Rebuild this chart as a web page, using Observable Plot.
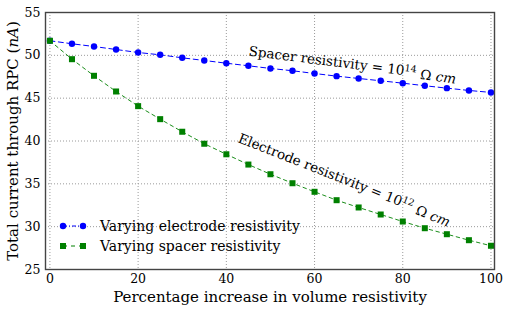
<!DOCTYPE html>
<html><head><meta charset="utf-8">
<script src="https://cdn.jsdelivr.net/npm/d3@7"></script>
<script src="https://cdn.jsdelivr.net/npm/@observablehq/plot@0.6"></script>
<style>
html,body{margin:0;padding:0;background:#fff;}
#chart{width:509px;height:310px;}
#chart svg text{font-family:"DejaVu Serif",serif;}
</style>
</head><body><div id="chart"></div>
<script>
const pct = [0,5,10,15,20,25,30,35,40,45,50,55,60,65,70,75,80,85,90,95,100];
const varyingElectrode = [51.7,51.35,51.03,50.68,50.33,50.06,49.71,49.40,49.08,48.78,48.47,48.2,47.88,47.57,47.30,47.03,46.75,46.45,46.17,45.9,45.67];
const varyingSpacer = [51.7,49.55,47.61,45.78,44.07,42.55,41.08,39.68,38.45,37.25,36.12,35.07,34.07,33.09,32.24,31.42,30.6,29.82,29.12,28.42,27.77];
const xTicks = [0,20,40,60,80,100];
const yTicks = [25,30,35,40,45,50,55];
const seriesNames = ["Varying electrode resistivity","Varying spacer resistivity"];
const seriesColors = ["#0000ff","#008000"];
const xLabel = "Percentage increase in volume resistivity";
const yLabel = "Total current through RPC (nA)";
const annotations = [
  {x: 68.6, y: 48.95, rotate: 7.2, base: "Spacer resistivity = 10", sup: "14"},
  {x: 66.8, y: 35.5, rotate: 21.5, base: "Electrode resistivity = 10", sup: "12"}
];

const rowsE = pct.map((p,i)=>({x:p, y:varyingElectrode[i]}));
const rowsS = pct.map((p,i)=>({x:p, y:varyingSpacer[i]}));
const FONT = "DejaVu Serif";
const M = {left: 45, right: 15, top: 12, bottom: 41};
const W = 509, H = 310;

const svg = Plot.plot({
  width: W, height: H,
  marginLeft: M.left, marginRight: M.right, marginTop: M.top, marginBottom: M.bottom,
  style: {fontFamily: "'DejaVu Serif', serif", fontSize: "12.5px", background: "white", color: "black", overflow: "visible"},
  x: {domain: [-1, 100.8], ticks: xTicks, tickSize: 0, tickPadding: 5, label: null},
  y: {domain: [25, 55], ticks: yTicks, tickSize: 0, tickPadding: 5, label: null},
  marks: [
    Plot.gridX(xTicks, {stroke: "#9a9a9a", strokeOpacity: 1, strokeDasharray: "1,2"}),
    Plot.gridY(yTicks, {stroke: "#9a9a9a", strokeOpacity: 1, strokeDasharray: "1,2"}),
    Plot.line(rowsE, {x: "x", y: "y", stroke: seriesColors[0], strokeWidth: 1, strokeDasharray: "5,3.5"}),
    Plot.line(rowsS, {x: "x", y: "y", stroke: seriesColors[1], strokeWidth: 0.9, strokeDasharray: "3.5,3.5"}),
    Plot.dot(rowsE, {x: "x", y: "y", fill: seriesColors[0], r: 3.2, symbol: "circle"}),
    Plot.dot(rowsS, {x: "x", y: "y", fill: seriesColors[1], r: 3.4, symbol: "square"}),
    Plot.text(annotations, {x: "x", y: "y", rotate: "rotate", text: d => d.base + d.sup, fontSize: 13.5, fill: "black", className: "ann"}),
    Plot.text([xLabel], {frameAnchor: "bottom", lineAnchor: "middle", textAnchor: "middle", dy: 28, fontSize: 15, fill: "black"}),
    Plot.text([yLabel], {frameAnchor: "left", lineAnchor: "middle", textAnchor: "middle", rotate: -90, dx: -32, fontSize: 15, fill: "black", className: "ylab"}),
    Plot.frame({stroke: "#444", strokeWidth: 1.4})
  ]
});
document.getElementById("chart").appendChild(svg);

// rich text: superscripts and italic math
const sel = d3.select(svg);
sel.selectAll("g.ann text").each(function(d, i) {
  const a = annotations[i];
  const t = d3.select(this);
  t.text(null);
  t.append("tspan").text(a.base);
  t.append("tspan").attr("dy", "-0.45em").attr("font-size", "9.5px").text(a.sup);
  t.append("tspan").attr("dy", "0.45em").text(" \u03A9 ");
  t.append("tspan").attr("font-style", "italic").text("cm");
});
sel.selectAll("g.ylab text").each(function() {
  const t = d3.select(this);
  t.text(null);
  t.append("tspan").text("Total current through RPC (");
  t.append("tspan").attr("font-style", "italic").text("nA");
  t.append("tspan").text(")");
});

// legend (inside lower-left of the plot)
const fx = M.left, fy = M.top, fh = H - M.top - M.bottom;
const lg = sel.append("g").style("font-family", "'DejaVu Serif', serif").style("font-size", "14px").attr("text-anchor", "start");
seriesNames.forEach((name, i) => {
  const cy = fy + fh - 43 + i * 20;
  const g = lg.append("g");
  g.append("line").attr("x1", fx + 18).attr("x2", fx + 38).attr("y1", cy).attr("y2", cy)
    .attr("stroke", seriesColors[i]).attr("stroke-width", 1).attr("stroke-dasharray", i === 0 ? "4,2,1,2" : "4,4");
  [fx + 18, fx + 38].forEach(cx => {
    if (i === 0) g.append("circle").attr("cx", cx).attr("cy", cy).attr("r", 3.2).attr("fill", seriesColors[i]);
    else g.append("rect").attr("x", cx - 3).attr("y", cy - 3).attr("width", 6).attr("height", 6).attr("fill", seriesColors[i]);
  });
  g.append("text").attr("x", fx + 55).attr("y", cy).attr("dy", "0.35em").attr("text-anchor", "start").attr("fill", "black").text(name);
});
</script>
</body></html>
